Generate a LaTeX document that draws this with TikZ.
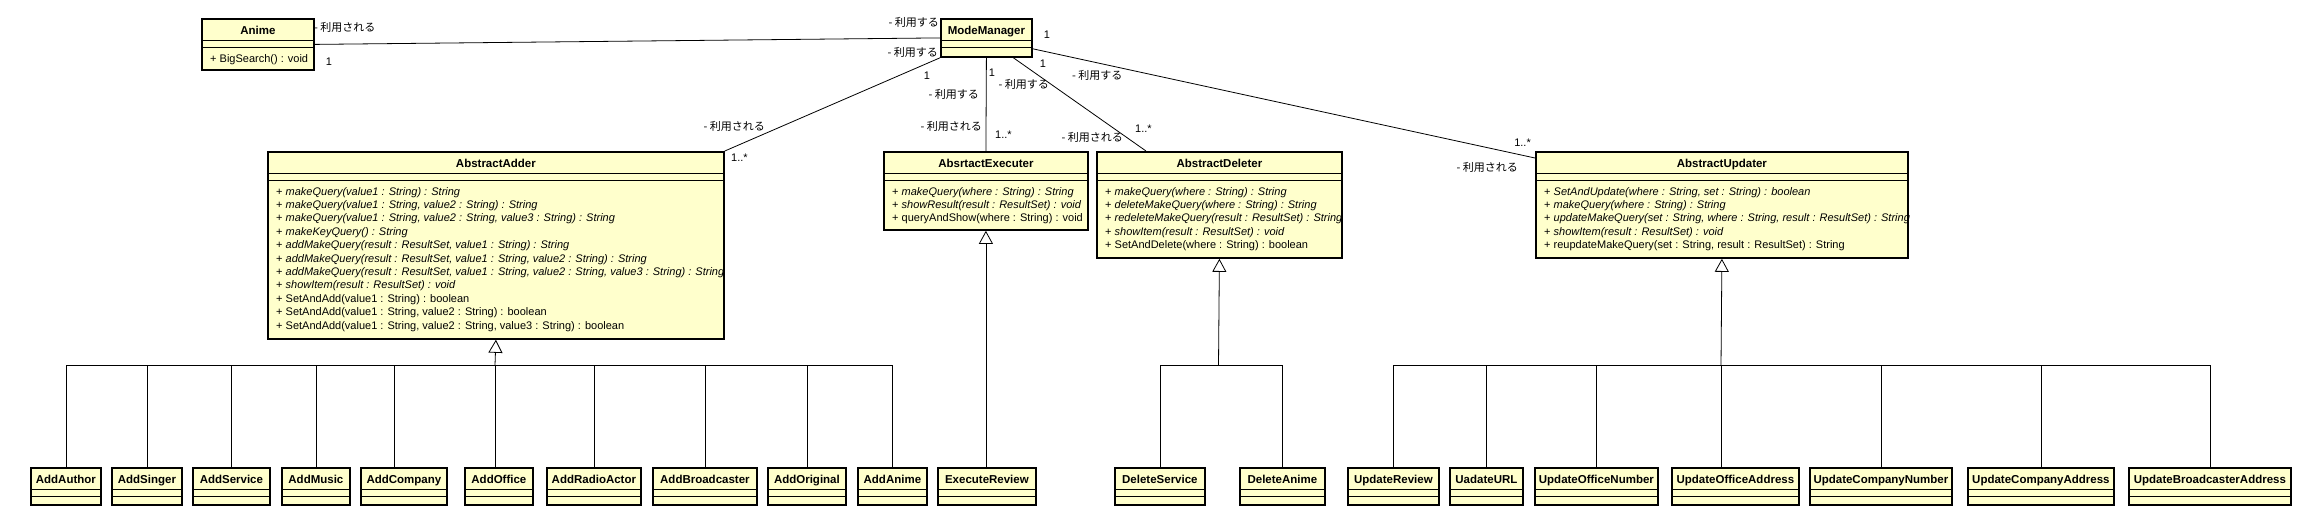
\documentclass[tikz,border=0pt]{standalone}
\usepackage{fontspec}
\setmainfont{Liberation Sans}
\newfontfamily\jp{Noto Sans CJK JP}
\usetikzlibrary{arrows.meta,calc}
\definecolor{umlyellow}{HTML}{FFFFCC}

\tikzset{
  classbox/.style={draw, line width=1.8pt, fill=umlyellow, inner sep=0pt, anchor=north west,
    path picture={
      \draw[line width=0.8pt] ([yshift=-21pt]path picture bounding box.north west) -- ([yshift=-21pt]path picture bounding box.north east);
      \draw[line width=0.8pt] ([yshift=-28pt]path picture bounding box.north west) -- ([yshift=-28pt]path picture bounding box.north east);
    }},
  classname/.style={font=\fontsize{11.5}{13}\selectfont\bfseries, inner sep=0pt, anchor=base},
  oplist/.style={font=\fontsize{11}{13.4}\selectfont, align=left, inner sep=0pt, anchor=north west},
  assoc/.style={line width=0.8pt},
  role/.style={font=\jp\fontsize{11}{13}\selectfont, inner sep=0pt},
  mult/.style={font=\fontsize{11}{13}\selectfont, inner sep=0pt},
  gen/.style={line width=0.8pt},
  inherit/.style={line width=0.8pt, -{Triangle[open, length=13pt, width=14pt]}},
}

\begin{document}
\begin{tikzpicture}[x=1pt,y=-1pt]
\useasboundingbox (0,0) rectangle (2301,522);

% top classes
\node[classbox, minimum width=112pt, minimum height=51pt] (anime) at (201,18) {};
\node[classname] (anime-name) at ([yshift=-16pt]anime.north) {Anime};
\node[oplist] (anime-ops) at (210,54) {+ BigSearch() : void};

\node[classbox, minimum width=91pt, minimum height=38pt] (modemgr) at (940,18) {};
\node[classname] (modemgr-name) at ([yshift=-16pt]modemgr.north) {ModeManager};

\node[classbox, minimum width=456pt, minimum height=187pt] (adder) at (267,151) {};
\node[classname] (adder-name) at ([yshift=-16pt]adder.north) {AbstractAdder};
\node[oplist] (adder-ops) at (276,187) {%
+ \textit{makeQuery(value1 : String) : String}\\
+ \textit{makeQuery(value1 : String, value2 : String) : String}\\
+ \textit{makeQuery(value1 : String, value2 : String, value3 : String) : String}\\
+ \textit{makeKeyQuery() : String}\\
+ \textit{addMakeQuery(result : ResultSet, value1 : String) : String}\\
+ \textit{addMakeQuery(result : ResultSet, value1 : String, value2 : String) : String}\\
+ \textit{addMakeQuery(result : ResultSet, value1 : String, value2 : String, value3 : String) : String}\\
+ \textit{showItem(result : ResultSet) : void}\\
+ SetAndAdd(value1 : String) : boolean\\
+ SetAndAdd(value1 : String, value2 : String) : boolean\\
+ SetAndAdd(value1 : String, value2 : String, value3 : String) : boolean};

\node[classbox, minimum width=204pt, minimum height=78pt] (executer) at (883,151) {};
\node[classname] (executer-name) at ([yshift=-16pt]executer.north) {AbsrtactExecuter};
\node[oplist] (executer-ops) at (892,187) {%
+ \textit{makeQuery(where : String) : String}\\
+ \textit{showResult(result : ResultSet) : void}\\
+ queryAndShow(where : String) : void};

\node[classbox, minimum width=245pt, minimum height=106pt] (deleter) at (1096,151) {};
\node[classname] (deleter-name) at ([yshift=-16pt]deleter.north) {AbstractDeleter};
\node[oplist] (deleter-ops) at (1105,187) {%
+ \textit{makeQuery(where : String) : String}\\
+ \textit{deleteMakeQuery(where : String) : String}\\
+ \textit{redeleteMakeQuery(result : ResultSet) : String}\\
+ \textit{showItem(result : ResultSet) : void}\\
+ SetAndDelete(where : String) : boolean};

\node[classbox, minimum width=372pt, minimum height=106pt] (updater) at (1535,151) {};
\node[classname] (updater-name) at ([yshift=-16pt]updater.north) {AbstractUpdater};
\node[oplist] (updater-ops) at (1544,187) {%
+ \textit{SetAndUpdate(where : String, set : String) : boolean}\\
+ \textit{makeQuery(where : String) : String}\\
+ \textit{updateMakeQuery(set : String, where : String, result : ResultSet) : String}\\
+ \textit{showItem(result : ResultSet) : void}\\
+ reupdateMakeQuery(set : String, result : ResultSet) : String};

% associations
\draw[assoc] (anime.east) -- (modemgr.west);
\draw[assoc] (modemgr.south west) -- (adder.north east);
\draw[assoc] (modemgr.south) -- (executer.north);
\draw[assoc] ($(modemgr.south)+(27,0)$) -- ($(deleter.north west)+(50,0)$);
\draw[assoc] ($(modemgr.south east)+(0,-9)$) -- ($(updater.north west)+(0,7)$);

\node[role, anchor=west] (anime-role) at (314,27) {- 利用される};
\node[mult] (anime-mult) at (329,62) {1};
\node[role, anchor=east] (mm-role1) at (939,22) {- 利用する};
\node[role, anchor=east] (mm-role2) at (938,52) {- 利用する};
\node[mult] (mm-mult2) at (927,76) {1};
\node[role, anchor=east] (adder-role) at (765,126) {- 利用される};
\node[mult, anchor=west] (adder-mult) at (731,158) {1..*};
\node[mult] (mm-mult3) at (992,73) {1};
\node[role, anchor=east] (mm-role3) at (979,94) {- 利用する};
\node[role, anchor=east] (executer-role) at (982,126) {- 利用される};
\node[mult, anchor=west] (executer-mult) at (995,135) {1..*};
\node[mult] (mm-mult4) at (1043,64) {1};
\node[role, anchor=east] (mm-role4) at (1049,84) {- 利用する};
\node[role, anchor=east] (deleter-role) at (1123,137) {- 利用される};
\node[mult, anchor=west] (deleter-mult) at (1135,129) {1..*};
\node[mult] (mm-mult5) at (1047,35) {1};
\node[role, anchor=west] (mm-role5) at (1072,75) {- 利用する};
\node[mult, anchor=east] (updater-mult) at (1531,143) {1..*};
\node[role, anchor=east] (updater-role) at (1518,167) {- 利用される};

% subclasses
\node[classbox, minimum width=70pt, minimum height=37pt] (addauthor) at (30,467) {};
\node[classname] (addauthor-name) at ([yshift=-16pt]addauthor.north) {AddAuthor};
\node[classbox, minimum width=70pt, minimum height=37pt] (addsinger) at (111,467) {};
\node[classname] (addsinger-name) at ([yshift=-16pt]addsinger.north) {AddSinger};
\node[classbox, minimum width=77pt, minimum height=37pt] (addservice) at (192,467) {};
\node[classname] (addservice-name) at ([yshift=-16pt]addservice.north) {AddService};
\node[classbox, minimum width=68pt, minimum height=37pt] (addmusic) at (281,467) {};
\node[classname] (addmusic-name) at ([yshift=-16pt]addmusic.north) {AddMusic};
\node[classbox, minimum width=86pt, minimum height=37pt] (addcompany) at (360,467) {};
\node[classname] (addcompany-name) at ([yshift=-16pt]addcompany.north) {AddCompany};
\node[classbox, minimum width=68pt, minimum height=37pt] (addoffice) at (464,467) {};
\node[classname] (addoffice-name) at ([yshift=-16pt]addoffice.north) {AddOffice};
\node[classbox, minimum width=94pt, minimum height=37pt] (addradioactor) at (546,467) {};
\node[classname] (addradioactor-name) at ([yshift=-16pt]addradioactor.north) {AddRadioActor};
\node[classbox, minimum width=104pt, minimum height=37pt] (addbroadcaster) at (652,467) {};
\node[classname] (addbroadcaster-name) at ([yshift=-16pt]addbroadcaster.north) {AddBroadcaster};
\node[classbox, minimum width=78pt, minimum height=37pt] (addoriginal) at (767,467) {};
\node[classname] (addoriginal-name) at ([yshift=-16pt]addoriginal.north) {AddOriginal};
\node[classbox, minimum width=69pt, minimum height=37pt] (addanime) at (857,467) {};
\node[classname] (addanime-name) at ([yshift=-16pt]addanime.north) {AddAnime};
\node[classbox, minimum width=98pt, minimum height=37pt] (executereview) at (937,467) {};
\node[classname] (executereview-name) at ([yshift=-16pt]executereview.north) {ExecuteReview};
\node[classbox, minimum width=90pt, minimum height=37pt] (deleteservice) at (1114,467) {};
\node[classname] (deleteservice-name) at ([yshift=-16pt]deleteservice.north) {DeleteService};
\node[classbox, minimum width=85pt, minimum height=37pt] (deleteanime) at (1239,467) {};
\node[classname] (deleteanime-name) at ([yshift=-16pt]deleteanime.north) {DeleteAnime};
\node[classbox, minimum width=91pt, minimum height=37pt] (updatereview) at (1347,467) {};
\node[classname] (updatereview-name) at ([yshift=-16pt]updatereview.north) {UpdateReview};
\node[classbox, minimum width=73pt, minimum height=37pt] (uadateurl) at (1449,467) {};
\node[classname] (uadateurl-name) at ([yshift=-16pt]uadateurl.north) {UadateURL};
\node[classbox, minimum width=123pt, minimum height=37pt] (updofficenumber) at (1534,467) {};
\node[classname] (updofficenumber-name) at ([yshift=-16pt]updofficenumber.north) {UpdateOfficeNumber};
\node[classbox, minimum width=127pt, minimum height=37pt] (updofficeaddress) at (1671,467) {};
\node[classname] (updofficeaddress-name) at ([yshift=-16pt]updofficeaddress.north) {UpdateOfficeAddress};
\node[classbox, minimum width=142pt, minimum height=37pt] (updcompanynumber) at (1809,467) {};
\node[classname] (updcompanynumber-name) at ([yshift=-16pt]updcompanynumber.north) {UpdateCompanyNumber};
\node[classbox, minimum width=146pt, minimum height=37pt] (updcompanyaddress) at (1967,467) {};
\node[classname] (updcompanyaddress-name) at ([yshift=-16pt]updcompanyaddress.north) {UpdateCompanyAddress};
\node[classbox, minimum width=162pt, minimum height=37pt] (updbroadcasteraddress) at (2128,467) {};
\node[classname] (updbroadcasteraddress-name) at ([yshift=-16pt]updbroadcasteraddress.north) {UpdateBroadcasterAddress};

% generalizations
\coordinate (adderjoin) at (495,365);
\draw[gen] (addauthor.north) |- (adderjoin);
\draw[gen] (addsinger.north) |- (adderjoin);
\draw[gen] (addservice.north) |- (adderjoin);
\draw[gen] (addmusic.north) |- (adderjoin);
\draw[gen] ([xshift=-10pt]addcompany.north) |- (adderjoin);
\draw[gen] (addoffice.north -| adderjoin) -- (adderjoin);
\draw[gen] (addradioactor.north) |- (adderjoin);
\draw[gen] (addbroadcaster.north) |- (adderjoin);
\draw[gen] (addoriginal.north) |- (adderjoin);
\draw[gen] (addanime.north) |- (adderjoin);
\draw[inherit] (adderjoin) -- (adder.south);

\draw[inherit] (executereview.north -| executer.south) -- (executer.south);

\coordinate (deleterjoin) at (1218.5,365);
\draw[gen] (deleteservice.north) |- (deleterjoin);
\draw[gen] (deleteanime.north) |- (deleterjoin);
\draw[inherit] (deleterjoin) -- (deleter.south);

\coordinate (updaterjoin) at (1721,365);
\draw[gen] (updatereview.north) |- (updaterjoin);
\draw[gen] (uadateurl.north) |- (updaterjoin);
\draw[gen] (updofficenumber.north) |- (updaterjoin);
\draw[gen] (updofficeaddress.north -| updaterjoin) -- (updaterjoin);
\draw[gen] (updcompanynumber.north) |- (updaterjoin);
\draw[gen] (updcompanyaddress.north) |- (updaterjoin);
\draw[gen] (updbroadcasteraddress.north) |- (updaterjoin);
\draw[inherit] (updaterjoin) -- (updater.south);
\end{tikzpicture}
\end{document}
